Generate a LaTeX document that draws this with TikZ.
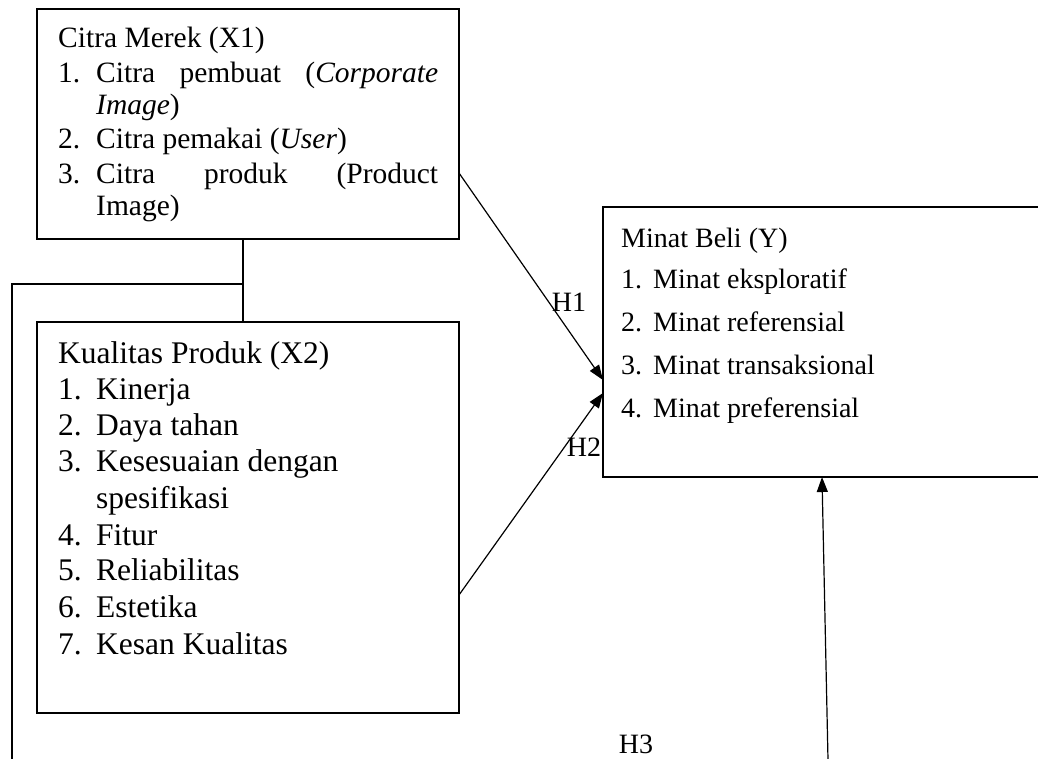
\documentclass[tikz,border=0pt]{standalone}
\usepackage{fontspec}
\setmainfont{Liberation Serif}
\usetikzlibrary{arrows.meta}
\begin{document}
\begin{tikzpicture}[x=1pt,y=-1pt,
  box/.style={draw,line width=1.2pt,inner sep=0pt},
  txt/.style={anchor=base west,inner sep=0pt},
  ta/.style={txt,font=\fontsize{29.5}{34}\selectfont},
  tb/.style={txt,font=\fontsize{31.5}{36}\selectfont},
  tc/.style={txt,font=\fontsize{28}{34}\selectfont},
  conn/.style={line width=1.2pt},
  arr/.style={line width=1.2pt,-{Triangle[length=15pt,width=11pt]}},
  lbl/.style={inner sep=0pt,font=\fontsize{28}{34}\selectfont}]
\useasboundingbox (0,0) rectangle (1038,758);
\clip (0,0) rectangle (1038,758);
% boxes
\node[box,minimum width=422pt,minimum height=230pt] (b1) at (248,124) {};
\node[box,minimum width=422pt,minimum height=391pt] (b2) at (248,517.5) {};
\node[box,minimum width=440pt,minimum height=270pt] (b3) at (823,342) {};
% box 1 text
\node[ta] (a0) at (58,47) {Citra Merek (X1)};
\node[ta] (a1n) at (58,82) {1.};
\node[ta] (a1) at (96,82) {\hbox to 342pt{Citra\hfill pembuat\hfill (\textit{Corporate}}};
\node[ta] (a1b) at (96,114) {\textit{Image})};
\node[ta] (a2n) at (58,148) {2.};
\node[ta] (a2) at (96,148) {Citra pemakai (\textit{User})};
\node[ta] (a3n) at (58,183) {3.};
\node[ta] (a3) at (96,183) {\hbox to 342pt{Citra\hfill produk\hfill (Product}};
\node[ta] (a3b) at (96,215) {Image)};
% box 2 text
\node[tb] (k0) at (58,363) {Kualitas Produk (X2)};
\node[tb] (k1n) at (58,399) {1.};
\node[tb] (k1) at (96,399) {Kinerja};
\node[tb] (k2n) at (58,435) {2.};
\node[tb] (k2) at (96,435) {Daya tahan};
\node[tb] (k3n) at (58,471) {3.};
\node[tb] (k3) at (96,471) {Kesesuaian dengan};
\node[tb] (k3b) at (96,508) {spesifikasi};
\node[tb] (k4n) at (58,545) {4.};
\node[tb] (k4) at (96,545) {Fitur};
\node[tb] (k5n) at (58,580) {5.};
\node[tb] (k5) at (96,580) {Reliabilitas};
\node[tb] (k6n) at (58,617) {6.};
\node[tb] (k6) at (96,617) {Estetika};
\node[tb] (k7n) at (58,654) {7.};
\node[tb] (k7) at (96,654) {Kesan Kualitas};
% box 3 text
\node[tc] (m0) at (621,247) {Minat Beli (Y)};
\node[tc] (m1n) at (621,288) {1.};
\node[tc] (m1) at (653,288) {Minat eksploratif};
\node[tc] (m2n) at (621,331) {2.};
\node[tc] (m2) at (653,331) {Minat referensial};
\node[tc] (m3n) at (621,374) {3.};
\node[tc] (m3) at (653,374) {Minat transaksional};
\node[tc] (m4n) at (621,417) {4.};
\node[tc] (m4) at (653,417) {Minat preferensial};
% connector coordinates
\coordinate (j1) at (243,284);
\coordinate (l1) at (12,284);
\coordinate (l2) at (12,760);
\coordinate (h1s) at (459,173);
\coordinate (h1e) at (603,380);
\coordinate (h2s) at (459,595);
\coordinate (h2e) at (603,393);
\coordinate (h3s) at (828,760);
\coordinate (h3e) at (822,477);
% connectors
\draw[conn] (b1.south -| j1) -- (b2.north -| j1);
\draw[conn] (j1) -- (l1) -- (l2);
\draw[arr] (h1s) -- (h1e);
\draw[arr] (h2s) -- (h2e);
\draw[arr] (h3s) -- (h3e);
% labels
\node[lbl] (H1) at (569,302) {H1};
\node[lbl] (H2) at (584,447) {H2};
\node[lbl] (H3) at (636,744) {H3};
\end{tikzpicture}
\end{document}
